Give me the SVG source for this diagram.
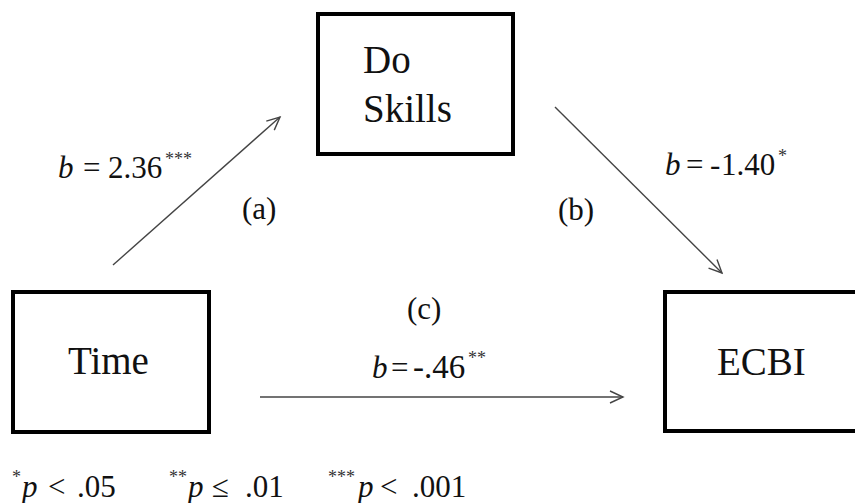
<svg xmlns="http://www.w3.org/2000/svg" width="855" height="503" viewBox="0 0 855 503">
<defs>
<style>
text{font-family:'Liberation Serif','Times New Roman',serif;fill:#111}
.box{fill:#fff;stroke:#000;stroke-width:4}
.node{font-size:39px}
.lbl{font-size:31px}
.it{font-style:italic}
.sup{font-size:18px;fill:#333}
.edge{stroke:#444;stroke-width:1.4;fill:none}
</style>
<marker id="arr" markerWidth="16" markerHeight="14" refX="14" refY="7" orient="auto" markerUnits="userSpaceOnUse">
<path d="M1,1 L14,7 L1,13" fill="none" stroke="#444" stroke-width="1.4"/>
</marker>
</defs>
<rect width="855" height="503" fill="#fff"/>
<g id="connectors">
<line class="edge" x1="113" y1="265" x2="280" y2="117" marker-end="url(#arr)"/>
<line class="edge" x1="555" y1="107" x2="722" y2="273" marker-end="url(#arr)"/>
<line class="edge" x1="260" y1="397" x2="623" y2="397" marker-end="url(#arr)"/>
</g>
<g id="node-doskills">
<rect class="box" x="318" y="14" width="195" height="140"/>
<text class="node" x="363" y="73">Do</text>
<text class="node" x="363" y="122">Skills</text>
</g>
<g id="node-time">
<rect class="box" x="13" y="292" width="196" height="140"/>
<text class="node" x="68" y="374">Time</text>
</g>
<g id="node-ecbi">
<rect class="box" x="665" y="292" width="200" height="139"/>
<text class="node" x="717" y="375">ECBI</text>
</g>
<g id="labels">
<text class="lbl" y="178"><tspan class="it" x="58">b</tspan><tspan x="83">=</tspan><tspan x="108">2.36</tspan><tspan class="sup" x="165" y="165">***</tspan></text>
<text class="lbl" x="242" y="219">(a)</text>
<text class="lbl" x="558" y="220">(b)</text>
<text class="lbl" y="175"><tspan class="it" x="665">b</tspan><tspan x="686">=</tspan><tspan x="710">-</tspan><tspan x="721">1.40</tspan><tspan class="sup" x="778" y="162">*</tspan></text>
<text class="lbl" x="407" y="319">(c)</text>
<text class="lbl" y="378"><tspan class="it" x="372">b</tspan><tspan x="391">=</tspan><tspan x="413" font-size="33">-</tspan><tspan x="424" font-size="33">.46</tspan><tspan class="sup" x="468" y="364">**</tspan></text>
</g>
<g id="footnote">
<text class="lbl" y="497"><tspan class="sup" x="12" y="483">*</tspan><tspan class="it" x="22" y="497">p</tspan><tspan x="48">&lt;</tspan><tspan x="77">.05</tspan><tspan class="sup" x="169" y="483">**</tspan><tspan class="it" x="188" y="497">p</tspan><tspan x="212">≤</tspan><tspan x="245">.01</tspan><tspan class="sup" x="328" y="483">***</tspan><tspan class="it" x="358" y="497">p</tspan><tspan x="380">&lt;</tspan><tspan x="412">.001</tspan></text>
</g>
</svg>
